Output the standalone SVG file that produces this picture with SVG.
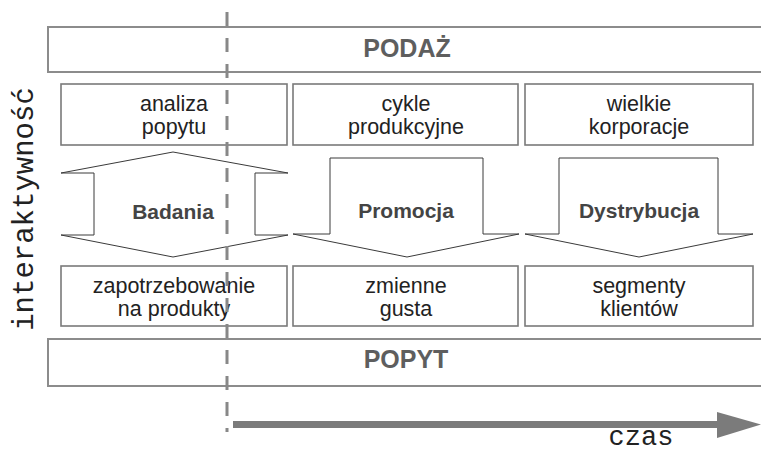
<svg xmlns="http://www.w3.org/2000/svg" width="761" height="452" viewBox="0 0 761 452">
  <style>
    .band { fill: #ffffff; stroke: #8c8c8c; stroke-width: 2; }
    .box { fill: #ffffff; stroke: #7a7a7a; stroke-width: 1.6; }
    .flow { fill: #ffffff; stroke: #3a3a3a; stroke-width: 1; stroke-linejoin: miter; }
    .band-label { font-family: "Liberation Sans", Arial, sans-serif; font-size: 25px; font-weight: bold; fill: #5e5e5e; text-anchor: middle; }
    .box-label { font-family: "Liberation Sans", Arial, sans-serif; font-size: 21.5px; fill: #222222; text-anchor: middle; }
    .flow-label { font-family: "Liberation Sans", Arial, sans-serif; font-size: 21px; font-weight: bold; fill: #444444; text-anchor: middle; }
    .axis-label { font-family: "Liberation Mono", "Courier New", monospace; fill: #222222; text-anchor: middle; }
    .divider { fill: none; stroke: #888888; stroke-width: 3; stroke-dasharray: 14 12; }
  </style>

  <!-- supply band -->
  <g id="podaz">
    <rect class="band" x="48" y="27" width="730" height="45"/>
    <text class="band-label" x="407" y="57">PODAŻ</text>
  </g>

  <!-- upper row -->
  <g id="analiza-popytu">
    <rect class="box" x="61" y="84" width="226" height="61"/>
    <text class="box-label" x="174" y="111">analiza</text>
    <text class="box-label" x="174" y="134">popytu</text>
  </g>
  <g id="cykle-produkcyjne">
    <rect class="box" x="293" y="84" width="225" height="61"/>
    <text class="box-label" x="406" y="111">cykle</text>
    <text class="box-label" x="406" y="134">produkcyjne</text>
  </g>
  <g id="wielkie-korporacje">
    <rect class="box" x="525" y="84" width="228" height="61"/>
    <text class="box-label" x="639" y="111">wielkie</text>
    <text class="box-label" x="639" y="134">korporacje</text>
  </g>

  <!-- block arrows between the rows -->
  <g id="badania">
    <polygon class="flow" points="173,152 288,173 255,173 255,235 288,235 173,257 61,235 94,235 94,173 61,173"/>
    <text class="flow-label" x="173" y="219">Badania</text>
  </g>
  <g id="promocja">
    <polygon class="flow" points="330,158 483,158 483,234 519,234 407,257 293,234 330,234"/>
    <text class="flow-label" x="406" y="218">Promocja</text>
  </g>
  <g id="dystrybucja">
    <polygon class="flow" points="559,158 718,158 718,234 753,234 639,257 525,234 559,234"/>
    <text class="flow-label" x="639" y="218">Dystrybucja</text>
  </g>

  <!-- lower row -->
  <g id="zapotrzebowanie">
    <rect class="box" x="61" y="266" width="226" height="60"/>
    <text class="box-label" x="174" y="293">zapotrzebowanie</text>
    <text class="box-label" x="174" y="316">na produkty</text>
  </g>
  <g id="zmienne-gusta">
    <rect class="box" x="293" y="266" width="225" height="60"/>
    <text class="box-label" x="406" y="293">zmienne</text>
    <text class="box-label" x="406" y="316">gusta</text>
  </g>
  <g id="segmenty-klientow">
    <rect class="box" x="525" y="266" width="228" height="60"/>
    <text class="box-label" x="639" y="293">segmenty</text>
    <text class="box-label" x="639" y="316">klientów</text>
  </g>

  <!-- demand band -->
  <g id="popyt">
    <rect class="band" x="48" y="339" width="730" height="47"/>
    <text class="band-label" x="406" y="368">POPYT</text>
  </g>

  <!-- axes -->
  <g id="connectors">
    <line class="divider" x1="227" y1="12" x2="227" y2="432"/>
    <rect x="233" y="421" width="486" height="7" fill="#7b7b7b"/>
    <polygon points="717,412 761,424.5 717,438" fill="#7b7b7b"/>
  </g>

  <g id="axis-labels">
    <text class="axis-label" font-size="29" transform="translate(33,209) rotate(-90)">interaktywność</text>
    <text class="axis-label" font-size="27" x="641" y="445">czas</text>
  </g>
</svg>
